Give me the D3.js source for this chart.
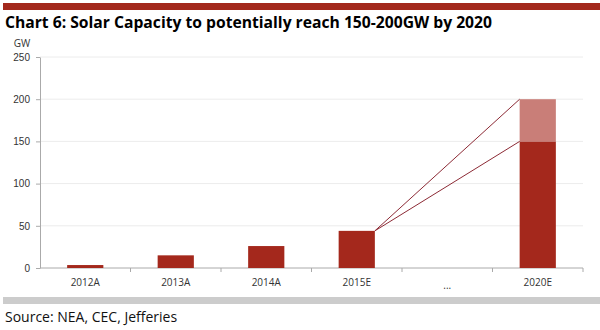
<!DOCTYPE html>
<html>
<head>
<meta charset="utf-8">
<style>
  body { margin: 0; background: #fff; }
  svg { display: block; font-family: "Open Sans", "Liberation Sans", Arial, sans-serif; }
  .axis text { fill: #333; font-size: 10px; }
  .axis .domain, .axis .tick line.tk { stroke: #aaa; }
</style>
</head>
<body>
<svg width="600" height="330"></svg>
<script src="https://d3js.org/d3.v7.min.js"></script>
<script>
  // data
  let categories = ["2012A", "2013A", "2014A", "2015E", "...", "2020E"];
  let baseValues = [3.5, 15, 26, 44, null, 150];   // actual / base case
  let upsideValues = [0, 0, 0, 0, null, 50];       // extra to the high case
  let yTicks = [0, 50, 100, 150, 200, 250];

  let svg = d3.select("svg");

  let margin = { top: 57, right: 17, bottom: 62, left: 40 };
  let width = 600, height = 330;

  // header band + title
  svg.append("rect").attr("x", 3).attr("y", 3).attr("width", 597).attr("height", 7).attr("fill", "#a3291d");
  svg.append("text")
    .attr("x", 5).attr("y", 28)
    .attr("font-weight", "bold").attr("font-size", 16)
    .attr("textLength", 487).attr("lengthAdjust", "spacingAndGlyphs")
    .attr("fill", "#000")
    .text("Chart 6: Solar Capacity to potentially reach 150-200GW by 2020");

  let x = d3.scaleBand()
    .domain(categories)
    .range([margin.left, width - margin.right])
    .paddingInner(0.6).paddingOuter(0.3);

  let y = d3.scaleLinear()
    .domain([0, 250])
    .range([height - margin.bottom, margin.top]);

  // gridlines
  svg.append("g").selectAll("line")
    .data(yTicks.filter(d => d > 0))
    .join("line")
    .attr("x1", margin.left).attr("x2", width - margin.right)
    .attr("y1", d => y(d)).attr("y2", d => y(d))
    .attr("stroke", "#ececec");

  // y axis
  let yAxis = svg.append("g")
    .attr("class", "y axis")
    .attr("transform", `translate(${margin.left},0)`)
    .call(d3.axisLeft(y).tickValues(yTicks).tickSize(4).tickPadding(6).tickSizeOuter(0));
  yAxis.selectAll(".tick line").attr("class", "tk");
  yAxis.selectAll("text").attr("font-size", 11);

  svg.append("text")
    .attr("x", 22).attr("y", 47)
    .attr("font-size", 10).attr("fill", "#333")
    .attr("text-anchor", "middle")
    .text("GW");

  // x axis: ticks at band boundaries
  let step = x.step();
  let xAxisG = svg.append("g").attr("class", "x axis");
  xAxisG.append("line").attr("class", "domain")
    .attr("x1", margin.left).attr("x2", width - margin.right)
    .attr("y1", y(0)).attr("y2", y(0));
  xAxisG.selectAll("line.tk")
    .data(categories)
    .join("line").attr("class", "tk")
    .attr("x1", d => x(d) + x.bandwidth() + (step - x.bandwidth()) / 2)
    .attr("x2", d => x(d) + x.bandwidth() + (step - x.bandwidth()) / 2)
    .attr("y1", y(0)).attr("y2", y(0) + 4)
    .attr("stroke", "#aaa");
  xAxisG.selectAll("text")
    .data(categories)
    .join("text")
    .attr("x", d => x(d) + x.bandwidth() / 2)
    .attr("y", d => d === "..." ? y(0) + 21 : y(0) + 18)
    .attr("text-anchor", "middle")
    .text(d => d);

  // bars
  let rows = categories.map((c, i) => ({ c, base: baseValues[i], up: upsideValues[i] }))
    .filter(d => d.base !== null);

  svg.append("g").selectAll("rect")
    .data(rows)
    .join("rect")
    .attr("x", d => x(d.c))
    .attr("width", x.bandwidth())
    .attr("y", d => y(d.base))
    .attr("height", d => y(0) - y(d.base))
    .attr("fill", "#a4281c");

  svg.append("g").selectAll("rect")
    .data(rows.filter(d => d.up > 0))
    .join("rect")
    .attr("x", d => x(d.c))
    .attr("width", x.bandwidth())
    .attr("y", d => y(d.base + d.up))
    .attr("height", d => y(d.base) - y(d.base + d.up))
    .attr("fill", "#c97e78");

  // connector lines 2015E -> 2020E low and high
  let from = rows.find(d => d.c === "2015E");
  let to = rows.find(d => d.c === "2020E");
  [to.base, to.base + to.up].forEach(v => {
    svg.append("line")
      .attr("x1", x(from.c) + x.bandwidth()).attr("y1", y(from.base))
      .attr("x2", x(to.c)).attr("y2", y(v))
      .attr("stroke", "#8c2a35").attr("stroke-width", 1);
  });

  // footer
  svg.append("rect").attr("x", 3).attr("y", 297).attr("width", 597).attr("height", 7).attr("fill", "#cccccc");
  svg.append("text")
    .attr("x", 5).attr("y", 322)
    .attr("font-size", 14).attr("fill", "#111")
    .text("Source: NEA, CEC, Jefferies");
</script>
</body>
</html>
